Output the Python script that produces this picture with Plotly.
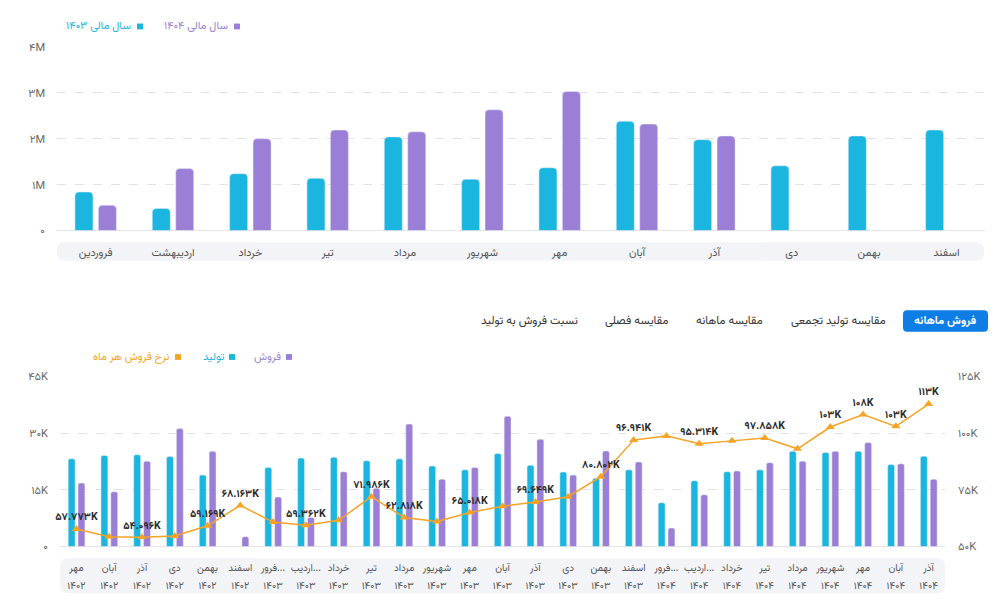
import plotly.graph_objects as go

W, H = 998, 612
FONT = "Vazirmatn, 'DejaVu Sans', sans-serif"
CYAN = "#1ab6df"
PURPLE = "#9b7fd6"
ORANGE = "#f7a326"

FA = str.maketrans("0123456789", "۰۱۲۳۴۵۶۷۸۹")
def fa(s):
    return str(s).translate(FA)

# ---------------- data: top chart (fiscal years) ----------------
months = ["فروردین", "اردیبهشت", "خرداد", "تیر", "مرداد", "شهریور",
          "مهر", "آبان", "آذر", "دی", "بهمن", "اسفند"]
fy1403 = [0.84e6, 0.48e6, 1.24e6, 1.14e6, 2.04e6, 1.12e6,
          1.37e6, 2.38e6, 1.98e6, 1.41e6, 2.06e6, 2.19e6]
fy1404 = [0.55e6, 1.35e6, 2.00e6, 2.19e6, 2.15e6, 2.63e6,
          3.03e6, 2.32e6, 2.06e6, None, None, None]
top_ticks = [0, 1e6, 2e6, 3e6, 4e6]
top_ticktext = ["0", "1M", "2M", "3M", "4M"]

# ---------------- data: bottom chart (monthly) ----------------
m_names = ["مهر", "آبان", "آذر", "دی", "بهمن", "اسفند",
           "فرور...", "اردیب...", "خرداد", "تیر", "مرداد", "شهریور", "مهر", "آبان", "آذر", "دی", "بهمن", "اسفند",
           "فرور...", "اردیب...", "خرداد", "تیر", "مرداد", "شهریور", "مهر", "آبان", "آذر"]
m_years = [1402] * 6 + [1403] * 12 + [1404] * 9
production = [23.2, 24.1, 24.3, 23.8, 18.9, None, 20.9, 23.4, 23.6, 22.7, 23.2, 21.3, 20.3, 24.6,
              21.5, 19.7, 18.1, 20.3, 11.6, 17.4, 19.8, 20.3, 25.2, 24.9, 25.2, 21.7, 23.9]
sales = [16.8, 14.5, 22.6, 31.2, 25.2, 2.6, 13.1, 7.7, 19.8, 15.4, 32.4, 17.8, 20.9, 34.5,
         28.4, 18.9, 25.3, 22.4, 4.9, 13.7, 20.0, 22.2, 22.6, 25.2, 27.5, 21.9, 17.8]
rate = [57.773, 54.3, 54.096, 54.7, 59.169, 68.163, 60.8, 59.362, 61.6, 71.986, 62.818, 61.1,
        65.018, 67.8, 69.649, 72.0, 80.802, 96.941, 98.8, 95.314, 96.6, 97.858, 93.1, 102.7,
        108.2, 103.0, 112.8]
rate_label_shown = [1, 0, 1, 0, 1, 1, 0, 1, 0, 1, 1, 0, 1, 0, 1, 0, 1, 1, 0, 1, 0, 1, 0, 1, 1, 1, 1]
left_ticks = [0, 15, 30, 45]
right_ticks = [50, 75, 100, 125]

tabs = ["فروش ماهانه", "مقایسه تولید تجمعی", "مقایسه ماهانه", "مقایسه فصلی", "نسبت فروش به تولید"]

# ---------------- helpers ----------------
def px(x):
    return x / W

def py(y):
    return 1 - y / H

def rrect(x0, y0, x1, y1, r):
    p = lambda x, y: f"{px(x):.5f},{py(y):.5f}"
    return (f"M {p(x0 + r, y0)} L {p(x1 - r, y0)} Q {p(x1, y0)} {p(x1, y0 + r)} "
            f"L {p(x1, y1 - r)} Q {p(x1, y1)} {p(x1 - r, y1)} L {p(x0 + r, y1)} "
            f"Q {p(x0, y1)} {p(x0, y1 - r)} L {p(x0, y0 + r)} Q {p(x0, y0)} {p(x0 + r, y0)} Z")

def fmt_k(v):
    return fa(f"{v:.0f}K") if v >= 100 else fa(f"{v:.3f}K")

n_m = len(m_names)
m_idx = list(range(n_m))
rate_text = [fmt_k(v) if s else "" for v, s in zip(rate, rate_label_shown)]

fig = go.Figure()

# top chart bars
fig.add_trace(go.Bar(x=months, y=fy1403, xaxis="x", yaxis="y", marker=dict(color=CYAN, cornerradius=4),
                     offset=-0.268, width=0.233, name="سال مالی ۱۴۰۳", hoverinfo="skip"))
fig.add_trace(go.Bar(x=months, y=fy1404, xaxis="x", yaxis="y", marker=dict(color=PURPLE, cornerradius=4),
                     offset=0.035, width=0.233, name="سال مالی ۱۴۰۴", hoverinfo="skip"))

# bottom chart
fig.add_trace(go.Bar(x=m_idx, y=[None if v is None else v * 1000 for v in production], xaxis="x2", yaxis="y2",
                     marker=dict(color=CYAN, cornerradius=2), offset=-0.25, width=0.21,
                     name="تولید", hoverinfo="skip"))
fig.add_trace(go.Bar(x=m_idx, y=[v * 1000 for v in sales], xaxis="x2", yaxis="y2",
                     marker=dict(color=PURPLE, cornerradius=2), offset=0.05, width=0.21,
                     name="فروش", hoverinfo="skip"))
fig.add_trace(go.Scatter(x=m_idx, y=[v * 1000 for v in rate], xaxis="x2", yaxis="y3",
                         mode="lines+markers+text", line=dict(color=ORANGE, width=1.5),
                         marker=dict(symbol="triangle-up", size=8, color=ORANGE),
                         text=rate_text, textposition="top center",
                         textfont=dict(family=FONT, size=10.5, color="#2b2b2b", weight="bold"),
                         name="نرخ فروش هر ماه", hoverinfo="skip", cliponaxis=False))
# invisible trace to carry the year-row axis
fig.add_trace(go.Scatter(x=[], y=[], xaxis="x3", yaxis="y2", showlegend=False, hoverinfo="skip"))

grid = dict(showgrid=True, gridcolor="#e3e3e3", griddash="dash", gridwidth=1, zeroline=False,
            showline=False, ticks="", fixedrange=True)
xrow = dict(type="linear", range=[-0.5, n_m - 0.5], tickvals=m_idx, ticks="", showgrid=False,
            showline=False, zeroline=False, tickangle=0, fixedrange=True)

fig.update_layout(
    width=W, height=H, autosize=False, margin=dict(l=0, r=0, t=0, b=0),
    paper_bgcolor="white", plot_bgcolor="white", showlegend=False, barmode="overlay",
    font=dict(family=FONT, size=11, color="#555"),
    xaxis=dict(domain=[px(57), px(985)], anchor="y", type="category", ticks="", showgrid=False,
               showline=False, zeroline=False, tickfont=dict(size=11, color="#555"),
               ticklabelstandoff=13, fixedrange=True, range=[-0.5, len(months) - 0.5]),
    yaxis=dict(domain=[py(230), py(41)], anchor="x", range=[0, 4e6], tickvals=top_ticks,
               ticktext=[fa(t) for t in top_ticktext], tickfont=dict(size=11, color="#666"),
               ticklabelstandoff=11, **grid),
    xaxis2=dict(domain=[px(60), px(945)], anchor="y2", ticktext=m_names,
                tickfont=dict(size=10, color="#555"), ticklabelstandoff=13, **xrow),
    xaxis3=dict(overlaying="x2", anchor="y2", side="bottom", ticktext=[fa(y) for y in m_years],
                tickfont=dict(size=10, color="#555"), ticklabelstandoff=31, **xrow),
    yaxis2=dict(domain=[py(555), py(380)], anchor="x2", range=[0, 45000],
                tickvals=[t * 1000 for t in left_ticks],
                ticktext=[fa(f"{t}K") if t else fa("0") for t in left_ticks],
                tickfont=dict(size=11, color="#666"), ticklabelstandoff=11, **grid),
    yaxis3=dict(overlaying="y2", anchor="x2", side="right", range=[50000, 125000],
                tickvals=[t * 1000 for t in right_ticks], ticktext=[fa(f"{t}K") for t in right_ticks],
                tickfont=dict(size=11, color="#666"), ticklabelstandoff=12, showgrid=False,
                zeroline=False, showline=False, ticks="", fixedrange=True),
)

shapes = []
# label bands
shapes.append(dict(type="path", path=rrect(57, 242, 984, 261, 8), xref="paper", yref="paper",
                   fillcolor="#f3f4f8", line=dict(width=0), layer="below"))
shapes.append(dict(type="path", path=rrect(60, 567, 945, 603, 8), xref="paper", yref="paper",
                   fillcolor="#f3f4f8", line=dict(width=0), layer="below"))
# baselines
shapes.append(dict(type="line", xref="paper", yref="paper", x0=px(57), x1=px(985), y0=py(230), y1=py(230),
                   line=dict(color="#e3e3e3", width=1), layer="below"))
shapes.append(dict(type="line", xref="paper", yref="paper", x0=px(60), x1=px(945), y0=py(555), y1=py(555),
                   line=dict(color="#e3e3e3", width=1), layer="below"))
# tab button
shapes.append(dict(type="path", path=rrect(903, 312, 988, 334, 4), xref="paper", yref="paper",
                   fillcolor="#0e7ee6", line=dict(width=0)))

annotations = []

def legend_item(sq_x, y, text_right, text, color):
    shapes.append(dict(type="rect", xref="paper", yref="paper", x0=px(sq_x), x1=px(sq_x + 6),
                       y0=py(y + 3), y1=py(y - 3), fillcolor=color, line=dict(width=0)))
    annotations.append(dict(x=px(text_right), y=py(y), xref="paper", yref="paper", text=text,
                            showarrow=False, xanchor="right", yanchor="middle",
                            font=dict(size=11, color=color, family=FONT)))

legend_item(234, 20, 230, "سال مالی ۱۴۰۴", PURPLE)
legend_item(137, 20, 133, "سال مالی ۱۴۰۳", CYAN)
legend_item(286, 360, 283, "فروش", PURPLE)
legend_item(229, 360, 227, "تولید", CYAN)
legend_item(175, 360, 171, "نرخ فروش هر ماه", ORANGE)

tab_x = [945, 838, 729, 636, 529]
for i, (t, x) in enumerate(zip(tabs, tab_x)):
    annotations.append(dict(x=px(x), y=py(323), xref="paper", yref="paper", text=t, showarrow=False,
                            xanchor="center", yanchor="middle",
                            font=dict(size=11.5, color="white" if i == 0 else "#333", family=FONT,
                                      weight="bold" if i == 0 else "normal")))

fig.update_layout(shapes=shapes, annotations=annotations)
fig.write_html("out.html")
